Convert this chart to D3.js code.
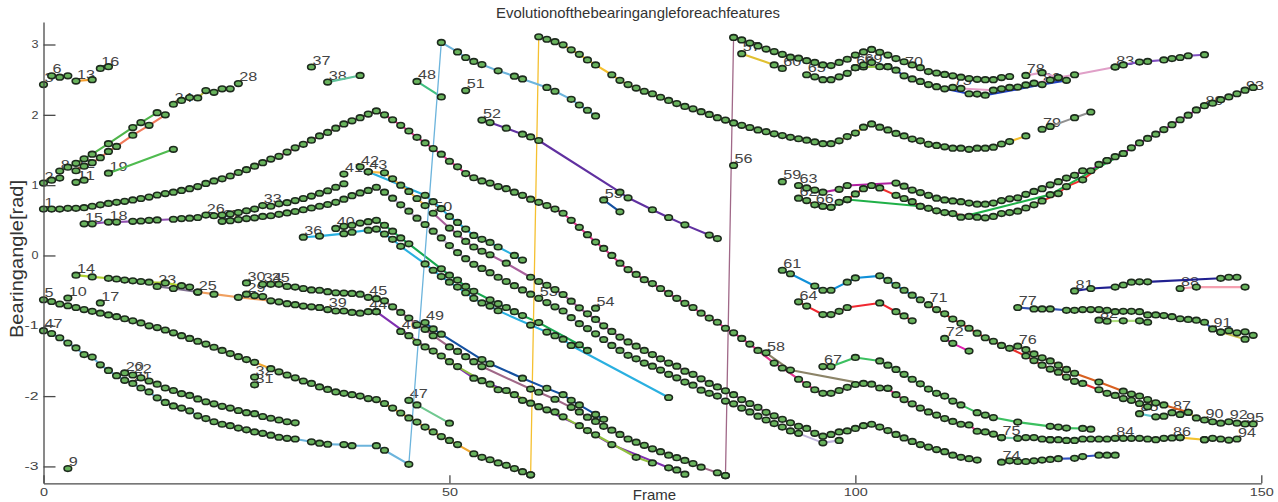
<!DOCTYPE html>
<html><head><meta charset="utf-8">
<script src="https://cdn.jsdelivr.net/npm/d3@7"></script>
<style>html,body{margin:0;padding:0;background:#fff}svg{display:block}text{font-family:"Liberation Sans",Arial,sans-serif}</style>
</head><body><svg id="c" width="1278" height="502"></svg>
<script>
const titleText="Evolutionofthebearingangleforeachfeatures", xTitle="Frame", yTitle="Bearingangle[rad]";
const xTickValues=[0,50,100,150], yTickValues=[-3,-2,-1,0,1,2,3];

// main long track, first stretch
const f1=[0,1,2,3,4,5,6,7,8,9,10,11,12,13,14,15,16,17,18,19,20,21,22,23,24,25,26,27,28,29,30,31,32,33,34,35,36,37,38,39,40,41,42,43,44,45,46,47,48,49,50,51,52,53,54,55,56,57,58,59,60,61,62,63,64,65,66,67,68,69,70,71,72,73,74,75,76,77,78,79,80,81,82,83,84,85,86,87,88,90,91,93,94,95,96,97,98,99,100,101,102,103,104,105,106,107,108,109,110,111,112,113,114,115,116,117,118];
const v1=[.66,.66,.66,.67,.67,.68,.70,.72,.74,.755,.77,.79,.81,.83,.86,.88,.90,.925,.95,.98,1.025,1.06,1.09,1.13,1.18,1.22,1.27,1.32,1.37,1.41,1.47,1.53,1.58,1.64,1.70,1.75,1.81,1.87,1.915,1.96,2.01,2.055,2.0,1.93,1.85,1.77,1.68,1.60,1.52,1.44,1.34,1.26,1.165,1.105,1.06,1.03,.98,.95,.90,.855,.80,.755,.71,.66,.60,.50,.40,.295,.19,.10,0,-.11,-.20,-.27,-.345,-.40,-.47,-.54,-.61,-.68,-.74,-.82,-.89,-.95,-1.035,-1.10,-1.18,-1.26,-1.35,-1.53,-1.60,-1.76,-1.835,-1.91,-1.96,-1.96,-1.92,-1.875,-1.835,-1.82,-1.83,-1.885,-1.89,-1.98,-2.05,-2.11,-2.17,-2.225,-2.27,-2.32,-2.36,-2.40,-2.41,-2.50,-2.51,-2.54,-2.59];
const f75=[118,120,121,122,123,124], v75=[-2.59,-2.60,-2.59,-2.59,-2.61,-2.62];
const f84=[124,125,126,127,128,129,130,131,132,133,134,135,136,137,138,139,140], v84=[-2.62,-2.62,-2.63,-2.63,-2.61,-2.61,-2.61,-2.61,-2.60,-2.60,-2.60,-2.60,-2.61,-2.62,-2.60,-2.595,-2.59];
const f86=[140,143], v86=[-2.59,-2.62];
const f94=[143,144,145,146,147], v94=[-2.62,-2.60,-2.61,-2.625,-2.61];
const f58=[89,92,104], v58=[-1.385,-1.63,-1.89];

// small tracks, top left
const f3=[0], v3=[2.43];
const f6=[1,2,3], v6=[2.555,2.535,2.555];
const f13=[4,6], v13=[2.48,2.50];
const f16=[7,8], v16=[2.66,2.685];
const f2=[0,1,2], v2=[1.03,1.07,1.10];
const f8=[2,3,4,5,6,8,11,12,14], v8=[1.20,1.255,1.31,1.375,1.44,1.59,1.82,1.89,2.03];
const f12=[4,5,6,7,8,9,11,13,15], v12=[1.205,1.27,1.32,1.39,1.48,1.55,1.71,1.85,2.00];
const f11=[4,5], v11=[1.04,1.07];
const f19=[8,16], v19=[1.17,1.51];
const f24=[16,17,18,19,20,21,22,23], v24=[2.15,2.205,2.245,2.24,2.345,2.32,2.37,2.37];
const f28=[24], v28=[2.445];
const f37=[33], v37=[2.68];
const f38=[35,39], v38=[2.465,2.56];
const f48=[46,49], v48=[2.475,2.255];
const f51=[52], v51=[2.345];

// tracks around one radian
const f15=[5,6,8,9,11,12,13,14,16,17,18,19], v15=[.45,.45,.475,.475,.485,.49,.50,.505,.515,.525,.53,.54];
const f26=[20,21,22,23,24,25,26,27,28,29,30,31,32,33,34,35,36,37], v26=[.575,.565,.575,.59,.61,.635,.66,.71,.70,.735,.75,.78,.81,.845,.885,.92,.97,1.02];
const f27=[22,23,24,25,26,27,28,29,30,31,32,33,34,35,36,37,38,39,40,41,42,43,44,45,46,47,48,49,50,51,52,53,54,55,56,57,58,59,60], v27=[.485,.495,.51,.525,.535,.555,.565,.585,.605,.625,.65,.675,.70,.725,.755,.80,.85,.89,.925,.97,.90,.815,.72,.63,.53,.44,.345,.25,.14,.04,-.045,-.125,-.185,-.245,-.31,-.37,-.43,-.49,-.55];
const f53=[61,62,63,64,65,66,67,68,69,70,71,72,73,74,75,76,77,78,79,80,81,82,83,84,85,86,87,88,89,90,91,92,93,96,98], v53=[-.61,-.67,-.73,-.79,-.885,-.97,-1.04,-1.115,-1.195,-1.28,-1.35,-1.42,-1.47,-1.53,-1.575,-1.63,-1.69,-1.74,-1.80,-1.845,-1.915,-1.96,-2.0,-2.07,-2.11,-2.17,-2.225,-2.285,-2.34,-2.39,-2.44,-2.495,-2.53,-2.665,-2.63];
const f41=[37], v41=[1.157];
const f42=[39], v42=[1.26];
const f43=[40,42,43,44,45,46,47], v43=[1.19,1.175,1.09,1.0,.91,.81,.71];
const f42c=[40,47,48,49,50,51,52,53,54,55,56,58,59], v42c=[1.19,.855,.765,.665,.555,.47,.375,.285,.23,.185,.12,0,-.065];
const f50=[48,50,51,52,53,54,55,57,60,61,62,63,64,65,66,67,68,69,70,71,72,73,74,75,76,77,78,79,80,81,82,83,84,85,86,87,88,89,90,91,92,93,94,95,96,97,98,99,100,101,102,103,104,105,106,107,108,109,110,111,112,113,114,115];
const v50=[.60,.39,.305,.20,.12,.06,.01,-.11,-.31,-.37,-.425,-.485,-.555,-.65,-.745,-.83,-.91,-1.0,-1.08,-1.16,-1.23,-1.29,-1.35,-1.41,-1.47,-1.53,-1.575,-1.645,-1.69,-1.755,-1.82,-1.87,-1.925,-1.98,-2.05,-2.105,-2.16,-2.23,-2.28,-2.33,-2.38,-2.43,-2.46,-2.53,-2.57,-2.545,-2.51,-2.495,-2.46,-2.42,-2.40,-2.44,-2.49,-2.545,-2.595,-2.645,-2.69,-2.725,-2.76,-2.79,-2.84,-2.87,-2.89,-2.91];
const f36=[32,34,37,38,40,41,42,43,44,47,48,49,50,51,52,53,54,55,56,60,62,63,64,65,77], v36=[.26,.275,.31,.33,.36,.375,.305,.23,.13,-.12,-.21,-.30,-.38,-.45,-.53,-.61,-.675,-.72,-.785,-.99,-1.09,-1.14,-1.19,-1.28,-2.02];
const f40=[36,37,38,39,40,41,42,43,44,45,49,50,51,52,53,55,56,57,58,59,61,66,67], v40=[.385,.415,.43,.46,.48,.50,.43,.345,.25,.165,-.19,-.28,-.35,-.44,-.51,-.63,-.685,-.74,-.80,-.855,-.955,-1.27,-1.35];
const f52=[54,55,57,59,60,61,71,72,75,77,79,82,83], v52=[1.925,1.89,1.81,1.725,1.685,1.635,.90,.82,.65,.54,.435,.29,.24];
const f55=[69,71], v55=[.79,.62];
const f54=[68], v54=[-.75];
const f56=[85], v56=[1.28];

// tracks below zero
const f5=[0,1,2,3,4,5,6,7,8,9,10,11,12,13,14,15,16,17,18,19,20,21,22,23,24,25,26,28,29,30,31,32,33,34,35,36,37,38,39,40,41,42,43,44,45,46,47,48,49,50,51,53,54,55,56,57,58,59,60];
const v5=[-.63,-.655,-.69,-.715,-.74,-.77,-.795,-.82,-.845,-.87,-.90,-.93,-.96,-1.0,-1.025,-1.06,-1.10,-1.14,-1.18,-1.22,-1.26,-1.305,-1.35,-1.395,-1.44,-1.48,-1.52,-1.61,-1.655,-1.70,-1.74,-1.785,-1.82,-1.87,-1.905,-1.94,-1.96,-1.98,-2.0,-2.035,-2.05,-2.105,-2.17,-2.24,-2.31,-2.37,-2.44,-2.51,-2.575,-2.63,-2.69,-2.82,-2.87,-2.905,-2.95,-2.985,-3.03,-3.075,-3.12];
const f5top=[60,61,62,63,64,65,66,67,68,70,71,72,73,74,75,76,77,78,79,80,81,82,83,84,85,86,87,88,89,90,91,92,93,94,95,96,97,98,99,100,101,102,103,104,105,106,107,108,109,110,111,112,113,114,115,116,117,118,119,121];
const v5top=[-3.12,3.11,3.075,3.04,2.995,2.925,2.86,2.78,2.71,2.57,2.49,2.43,2.38,2.335,2.30,2.25,2.205,2.16,2.12,2.085,2.045,2.005,1.96,1.925,1.885,1.85,1.82,1.785,1.76,1.73,1.705,1.68,1.66,1.64,1.615,1.59,1.59,1.63,1.69,1.74,1.825,1.87,1.825,1.785,1.735,1.70,1.655,1.63,1.58,1.565,1.545,1.525,1.525,1.51,1.525,1.525,1.54,1.585,1.62,1.70];
const f47=[0,1,2,3,4,5,6,7,8,9,10,11,12,13,14,15,16,17,18,19,20,21,22,23,24,25,26,27,28,29,30,31,33,34,35,37,38,41,42,45,49,51,52,53,54,56,58,59,62,63,65,66,67,68];
const v47=[-1.07,-1.11,-1.17,-1.245,-1.315,-1.41,-1.445,-1.555,-1.635,-1.71,-1.775,-1.82,-1.885,-1.94,-2.025,-2.09,-2.14,-2.17,-2.21,-2.28,-2.32,-2.365,-2.40,-2.42,-2.455,-2.48,-2.51,-2.53,-2.555,-2.585,-2.60,-2.61,-2.65,-2.67,-2.685,-2.69,-2.705,-2.705,-2.77,-2.97,3.03,2.895,2.815,2.76,2.715,2.625,2.55,2.51,2.39,2.335,2.22,2.14,2.065,1.985];
const f20=[10,11,12,13,14,15,16,17,18,19,20,21,22,23,24,25,26,27,28,29,30,31], v20=[-1.67,-1.70,-1.74,-1.785,-1.83,-1.885,-1.92,-1.965,-1.99,-2.04,-2.08,-2.11,-2.145,-2.17,-2.205,-2.235,-2.25,-2.29,-2.315,-2.34,-2.365,-2.38];
const f47b=[45,46,50], v47b=[-2.06,-2.125,-2.385];
const f9=[3], v9=[-3.03];
const f10=[3], v10=[-.605];
const f17=[7], v17=[-.675];
const f31=[26], v31=[-1.84];
const f32=[26], v32=[-1.73];
const f14=[4,6,8,9,10,11,12,13,15,17,18], v14=[-.28,-.305,-.325,-.335,-.35,-.36,-.37,-.38,-.39,-.43,-.45];
const f23=[14,16,19], v23=[-.44,-.47,-.52];
const f25=[19,21,24,28,29,30,31,32,33,34], v25=[-.52,-.55,-.595,-.645,-.66,-.685,-.70,-.72,-.73,-.74];
const f29=[25,26,27], v29=[-.55,-.57,-.585];
const f30=[25], v30=[-.39];
const f39=[34,35,36,37,38,39,40,41], v39=[-.74,-.77,-.79,-.79,-.81,-.82,-.80,-.80];
const f34=[27,28,29,30,31,32,33,34,35,36,37,38,39,40,41,42,43,44,45,46,47,48,50,51,52,53,54,60,61,63,65,66,67,68,69,70,71,72,73,74,75,76,77,78,79,80,81,83,84];
const v34=[-.41,-.41,-.41,-.44,-.45,-.47,-.49,-.495,-.515,-.53,-.535,-.54,-.55,-.595,-.615,-.645,-.73,-.81,-.89,-.985,-1.05,-1.14,-1.30,-1.365,-1.44,-1.51,-1.58,-1.90,-1.945,-2.045,-2.16,-2.225,-2.30,-2.36,-2.43,-2.485,-2.545,-2.61,-2.655,-2.70,-2.75,-2.79,-2.84,-2.875,-2.915,-2.96,-3.01,-3.09,-3.13];
const f34top=[84,85,86,87,88,89,90,91,92,93,94,95,96,97,98,99,100,101,102,103,104,105,106,107,108,109,110,111,112,113,114,115,116,117,118,119];
const v34top=[-3.13,3.10,3.065,3.02,2.98,2.935,2.90,2.86,2.82,2.805,2.77,2.745,2.71,2.70,2.745,2.79,2.85,2.895,2.93,2.89,2.85,2.80,2.755,2.71,2.67,2.615,2.595,2.575,2.555,2.535,2.515,2.505,2.50,2.50,2.53,2.545];
const f49=[47,48,49,54,55,59,62,64,65,66,68,69], v49=[-.955,-1.045,-1.12,-1.48,-1.54,-1.745,-1.89,-1.98,-2.06,-2.125,-2.26,-2.33];
const f44=[41,47,48,50,53,55,57,59,60,61,66,67,70,77,78,79], v44=[-.80,-1.30,-1.36,-1.51,-1.745,-1.83,-1.92,-2.06,-2.10,-2.15,-2.42,-2.49,-2.69,-3.02,-3.05,-3.11];
const f46=[44,45,46,49,51,54,56,58,62,63,64,68,73,75], v46=[-1.08,-1.14,-1.235,-1.43,-1.58,-1.78,-1.91,-1.98,-2.195,-2.225,-2.295,-2.55,-2.87,-2.95];

// right-hand tracks
const f57=[86,90], v57=[2.87,2.71];
const f60=[91], v60=[2.66];
const f65=[94,95,96,97,98,99,100], v65=[2.57,2.54,2.50,2.50,2.54,2.59,2.67];
const f68=[100,101,103,104], v68=[2.67,2.68,2.685,2.685];
const f69=[101,102], v69=[2.71,2.745];
const f70=[104,105,106,107,108,109,110,111,114,115,116,123,126], v70=[2.685,2.635,2.555,2.51,2.475,2.43,2.40,2.37,2.30,2.295,2.28,2.43,2.49];
const f73=[112,113,117,118,119,120,121,122,124,125], v73=[2.39,2.375,2.35,2.37,2.39,2.395,2.425,2.45,2.495,2.53];
const f78=[121,123,125,127,132], v78=[2.56,2.60,2.53,2.57,2.68];
const f83=[132,133,135,136,138,139,140,141,143], v83=[2.68,2.71,2.75,2.76,2.78,2.80,2.815,2.84,2.855];
const f79=[123,124,127,129], v79=[1.795,1.835,1.96,2.04];
const f59=[91], v59=[1.05];
const f63=[93,94,95,96,98,99,105,106,107,108,109,110,111,112,113,114,115,116,117,118,119,120,121,122,123,124,125,126,127,128,129,130,131,132,133,134,135,136,137,138,139,140,141,142,143,144,145,146,147,148,149];
const v63=[.995,.96,.93,.90,.94,.995,1.03,.985,.93,.895,.855,.815,.79,.775,.765,.745,.73,.73,.745,.78,.805,.82,.87,.91,.95,1.005,1.05,1.10,1.14,1.205,1.205,1.295,1.35,1.405,1.45,1.53,1.60,1.665,1.725,1.79,1.86,1.93,1.995,2.07,2.13,2.165,2.215,2.255,2.30,2.35,2.39];
const f62=[93,94,95,96,97,98,99,100,101,102,103,105,106,107,108,109,110,111,112,114,115,116,117,118,119,120,121,122,123,125,126,128,131], v62=[.815,.78,.72,.70,.685,.755,.795,.875,.95,.995,.96,.855,.81,.765,.70,.67,.635,.61,.595,.555,.545,.535,.555,.595,.61,.63,.675,.72,.775,.88,.98,1.075,1.35];
const f66=[96,97,99,108,113,124,133], v66=[.70,.685,.795,.70,.545,.865,1.45];
const f61=[91,92,95,96,97,99,100,103,104,105,106,107,108], v61=[-.21,-.26,-.435,-.495,-.495,-.38,-.32,-.29,-.355,-.425,-.495,-.565,-.63];
const f64=[93,94,96,97,98,99,103,105,106,107], v64=[-.66,-.72,-.84,-.84,-.795,-.74,-.675,-.80,-.86,-.93];
const f71=[109,110,111,112,113,114,115,116,117,118,119,121,122,123,124,125,126,127,128,130,131,132,133,134,135,136], v71=[-.70,-.77,-.83,-.905,-.965,-1.035,-1.105,-1.17,-1.22,-1.28,-1.32,-1.43,-1.495,-1.56,-1.615,-1.66,-1.73,-1.79,-1.82,-1.91,-1.96,-1.99,-2.035,-2.06,-2.105,-2.15];
const f72=[111,112,114], v72=[-1.18,-1.25,-1.36];
const f76=[120,121,122,123,124,125,126,127,130,133,134,135,136,137,138,141], v76=[-1.29,-1.34,-1.40,-1.455,-1.50,-1.56,-1.62,-1.675,-1.80,-1.93,-1.97,-2.0,-2.05,-2.095,-2.125,-2.23];
const f90=[141,142,143,144,145,146,147,148,149], v90=[-2.23,-2.31,-2.34,-2.365,-2.385,-2.365,-2.385,-2.395,-2.395];
const f85=[135,137,138], v85=[-2.25,-2.295,-2.285];
const f87=[139,140], v87=[-2.235,-2.26];
const f67=[96,97,100,103,104,105,106,107,108,109,110,111,112,113,115,116,117,120,124,125,126,128,129], v67=[-1.58,-1.58,-1.45,-1.50,-1.56,-1.62,-1.69,-1.76,-1.825,-1.90,-1.96,-2.0,-2.07,-2.125,-2.235,-2.27,-2.305,-2.37,-2.43,-2.44,-2.455,-2.46,-2.47];
const f74=[118,119,120,121,122,123,124,125,127,128,130,131,132], v74=[-2.94,-2.92,-2.93,-2.93,-2.92,-2.91,-2.90,-2.89,-2.885,-2.86,-2.84,-2.84,-2.84];
const f77=[120,122,123,124,126,127,128,129,130,131,132,133,134,135,136,137,138,139,140,141,142,143,144,145,146,147,148,149], v77=[-.74,-.76,-.76,-.76,-.78,-.78,-.77,-.77,-.77,-.78,-.80,-.795,-.795,-.80,-.845,-.845,-.855,-.87,-.90,-.91,-.92,-.95,-1.045,-1.09,-1.07,-1.10,-1.085,-1.135];
const f91=[145,148], v91=[-1.09,-1.19];
const f82=[130,131,133,135,136], v82=[-.92,-.935,-.93,-.93,-.95];
const f81=[127,129,132,133,134,135,136,145,146,147], v81=[-.505,-.47,-.45,-.42,-.38,-.375,-.375,-.325,-.31,-.31];
const f88=[140,142,148], v88=[-.47,-.45,-.45];

const tracks=[
 [f1,v1,"#e8338f"],[f75,v75,"#70c9a4"],[f84,v84,"#9fb4c8"],[f86,v86,"#f2c230"],[f94,v94,"#a0a0a0"],
 [f3,v3,"#888"],[f6,v6,"#888"],[f13,v13,"#f59f2e"],[f16,v16,"#888"],[f2,v2,"#6a8fd0"],[f8,v8,"#4fb44a"],[f12,v12,"#f0795a"],[f11,v11,"#888"],[f19,v19,"#4fbb50"],[f24,v24,"#b8b83a"],[f28,v28,"#888"],[f37,v37,"#888"],[f38,v38,"#62c49c"],[f48,v48,"#3fbf80"],[f51,v51,"#888"],
 [f15,v15,"#9050b0"],[f26,v26,"#b9b0c8"],[f27,v27,"#c8b8d8"],[f53,v53,"#c0b4dc"],[f41,v41,"#888"],[f42,v42,"#888"],[f42c,v42c,"#2ab0e0"],[f43,v43,"#f5b840"],[f50,v50,"#a8609c"],[f36,v36,"#2ab0e0"],[f40,v40,"#18a850"],[f52,v52,"#6030a0"],[f55,v55,"#1450a0"],[f54,v54,"#888"],[f56,v56,"#888"],
 [f5,v5,"#f0a830"],[f5top,v5top,"#f5c030"],[f47,v47,"#6cb4dc"],[f20,v20,"#b0b0c0"],[f47b,v47b,"#70c890"],[f9,v9,"#888"],[f10,v10,"#888"],[f17,v17,"#888"],[f31,v31,"#888"],[f32,v32,"#888"],[f14,v14,"#b0d030"],[f23,v23,"#807090"],[f25,v25,"#f0a060"],[f29,v29,"#888"],[f30,v30,"#888"],[f39,v39,"#999"],[f34,v34,"#a06888"],[f34top,v34top,"#a06888"],[f49,v49,"#1450a0"],[f44,v44,"#8030b0"],[f46,v46,"#90c040"],
 [f57,v57,"#e0c030"],[f60,v60,"#888"],[f65,v65,"#888"],[f68,v68,"#8cc040"],[f69,v69,"#888"],[f70,v70,"#2040c0"],[f73,v73,"#e8a0c8"],[f78,v78,"#e0a0c8"],[f83,v83,"#8050c0"],[f79,v79,"#909090"],[f59,v59,"#888"],[f63,v63,"#b020a0"],[f62,v62,"#f03030"],[f66,v66,"#20b048"],[f61,v61,"#1090d8"],[f64,v64,"#f02830"],[f71,v71,"#e8302c"],[f72,v72,"#e020b0"],[f76,v76,"#d86020"],[f90,v90,"#c8c050"],[f85,v85,"#60c8d0"],[f87,v87,"#888"],[f67,v67,"#3cc060"],[f74,v74,"#3050c0"],[f77,v77,"#3050b0"],[f91,v91,"#c8c050"],[f82,v82,"#b0e080"],[f81,v81,"#202090"],[f88,v88,"#f5a0b0"],[f58,v58,"#8c8468"]
];

const labelNames=["1","2","3","41","5","6","8","9","10","11","12","13","14","15","16","17","18","19","20","21","22","23","24","25","26","27","28","29","30","31","32","33","34","35","36","37","38","39","40","42","43","44","45","46","47","47","48","49","50","51","52","53","54","55","56","57","58","59","60","61","62","63","64","65","66","67","68","69","70","71","72","73","74","75","76","77","78","79","80","81","82","83","84","85","86","87","88","89","90","91","92","93","94","95"];
const labelFrames=[0,0,0,37,0,1,2,3,3,4,4,4,4,5,7,7,8,8,10,11,11,14,16,19,20,22,24,25,25,26,26,27,27,28,32,33,35,35,36,39,40,40,40,44,0,45,46,47,48,52,54,61,68,69,85,86,89,91,91,91,93,93,93,94,95,96,100,101,106,109,111,112,118,118,120,120,121,123,123,127,130,132,132,135,139,139,140,143,143,144,146,148,147,148];
const labelValues=[.66,1.03,2.43,1.157,-.63,2.555,1.20,-3.03,-.605,1.04,1.205,2.48,-.28,.45,2.66,-.675,.475,1.17,-1.67,-1.82,-1.70,-.44,2.15,-.52,.575,.485,2.445,-.55,-.39,-1.84,-1.73,.71,-.41,-.41,.26,2.68,2.465,-.77,.385,1.26,1.19,-.80,-.595,-1.08,-1.07,-2.06,2.475,-.955,.60,2.345,1.925,-.61,-.75,.79,1.28,2.87,-1.385,1.05,2.66,-.21,.815,.995,-.66,2.57,.72,-1.58,2.67,2.71,2.66,-.70,-1.18,2.39,-2.94,-2.59,-1.29,-.74,2.56,1.795,2.43,-.505,-.92,2.68,-2.60,-2.25,-2.595,-2.235,-.47,2.10,-2.34,-1.045,-2.365,2.32,-2.61,-2.395];

const svg=d3.select("#c");
const x=d3.scaleLinear().domain([0,150]).range([43.5,1261.3]);
const y=d3.scaleLinear().domain([-3.24,3.32]).range([483.3,22]);
const axisColor="#4a4a4a", textColor="#444";

const data=tracks.map(([fr,va,color])=>({color,pts:fr.map((f,i)=>({f,v:va[i]}))}));
const segments=data.flatMap(d=>d.pts.slice(1).map((p,i)=>({a:d.pts[i],b:p,color:d.color})));

// labels sit behind the lines and markers, as in the source figure
svg.append("g").selectAll("text").data(labelNames).join("text")
  .attr("x",(d,i)=>x(labelFrames[i])+1).attr("y",(d,i)=>y(labelValues[i])-2.3)
  .attr("font-size",12.5).attr("fill",textColor)
  .attr("textLength",d=>d.length*9).attr("lengthAdjust","spacingAndGlyphs").text(d=>d);

// wrap-around jumps (from -pi to +pi) are thinner than ordinary links
svg.append("g").selectAll("line").data(segments).join("line")
  .attr("x1",d=>x(d.a.f)).attr("y1",d=>y(d.a.v)).attr("x2",d=>x(d.b.f)).attr("y2",d=>y(d.b.v))
  .attr("stroke",d=>d.color).attr("stroke-linecap","round")
  .attr("stroke-width",d=>Math.abs(d.a.v-d.b.v)>3?1.3:2.1);

svg.append("g").selectAll("ellipse").data(data.flatMap(d=>d.pts)).join("ellipse")
  .attr("cx",d=>x(d.f)).attr("cy",d=>y(d.v)).attr("rx",3.8).attr("ry",2.8)
  .attr("fill","#68b35c").attr("stroke","#1d2a1d").attr("stroke-width",1.6);

const gx=svg.append("g").attr("transform","translate(0,483.3)")
  .call(d3.axisBottom(x).tickValues(xTickValues).tickSizeInner(-8).tickSizeOuter(0).tickPadding(5).tickFormat(String));
const gy=svg.append("g").attr("transform","translate(43.5,0)")
  .call(d3.axisLeft(y).tickValues(yTickValues).tickSizeInner(-12).tickSizeOuter(0).tickPadding(5).tickFormat(String));
const tickCharWidth=new Map([[gx,8],[gy,7]]);
[gx,gy].forEach(g=>{
  g.selectAll("path,line").attr("stroke",axisColor).attr("stroke-width",1.3);
  g.selectAll("text").attr("font-size",10).attr("fill",textColor).attr("font-family","Liberation Sans")
    .attr("textLength",function(){return this.textContent.length*tickCharWidth.get(g)})
    .attr("lengthAdjust","spacingAndGlyphs");
});
gx.selectAll(".tick text").attr("y",6);

svg.append("text").attr("x",638).attr("y",18).attr("text-anchor","middle").attr("font-size",14.5).attr("fill","#333")
  .attr("textLength",284).attr("lengthAdjust","spacingAndGlyphs").text(titleText);
svg.append("text").attr("x",654.5).attr("y",500).attr("text-anchor","middle").attr("font-size",15).attr("fill","#333").text(xTitle);
svg.append("text").attr("transform","translate(23,259) rotate(-90)").attr("text-anchor","middle").attr("font-size",18).attr("fill","#333")
  .attr("textLength",158).attr("lengthAdjust","spacingAndGlyphs").text(yTitle);
</script></body></html>
